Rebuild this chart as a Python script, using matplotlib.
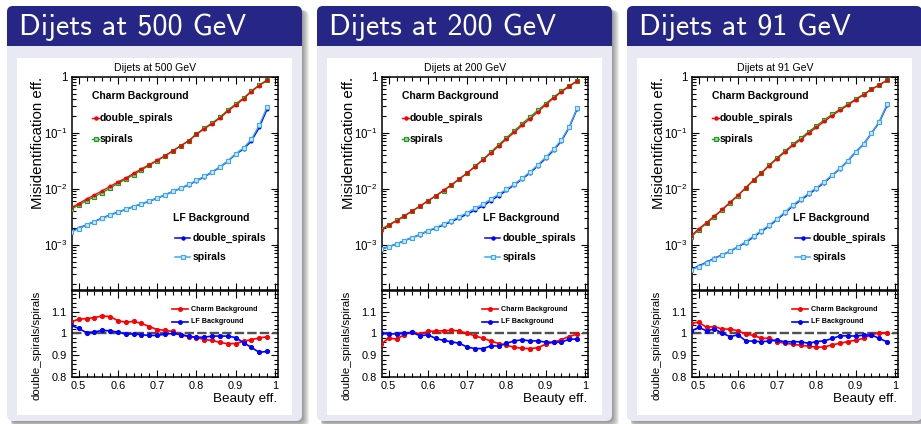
import numpy as np
import matplotlib
matplotlib.use("Agg")
import matplotlib.pyplot as plt
from matplotlib.patches import FancyBboxPatch, Rectangle
from matplotlib.ticker import MultipleLocator, LogLocator, FuncFormatter, NullFormatter, FormatStrFormatter

plt.rcParams['font.family'] = ['Liberation Sans', 'DejaVu Sans']
plt.rcParams['mathtext.fontset'] = 'custom'
plt.rcParams['mathtext.rm'] = 'Liberation Sans'
plt.rcParams['mathtext.it'] = 'Liberation Sans:italic'
plt.rcParams['mathtext.bf'] = 'Liberation Sans:bold'

W, H = 921, 424

# ---------------------------------------------------------------- data
beauty_eff = [0.48, 0.50, 0.52, 0.54, 0.56, 0.58, 0.60, 0.62, 0.64, 0.66, 0.68, 0.70, 0.72,
              0.74, 0.76, 0.78, 0.80, 0.82, 0.84, 0.86, 0.88, 0.90, 0.92, 0.94, 0.96, 0.98]

energies = ["500", "200", "91"]

# misidentification efficiency with the "spirals" tagger
charm_spirals_500 = [4.3e-3, 5.1e-3, 6.1e-3, 7.2e-3, 8.5e-3, 1.02e-2, 1.25e-2, 1.47e-2, 1.78e-2,
                     2.16e-2, 2.62e-2, 3.16e-2, 3.84e-2, 4.71e-2, 5.86e-2, 7.2e-2, 9.5e-2, 0.121,
                     0.149, 0.190, 0.254, 0.325, 0.417, 0.556, 0.711, 0.873]
lf_spirals_500 = [1.66e-3, 1.93e-3, 2.24e-3, 2.57e-3, 2.95e-3, 3.35e-3, 3.80e-3, 4.27e-3, 4.79e-3,
                  5.37e-3, 6.03e-3, 6.84e-3, 7.76e-3, 8.91e-3, 1.02e-2, 1.19e-2, 1.40e-2, 1.66e-2,
                  2.00e-2, 2.45e-2, 3.13e-2, 4.22e-2, 5.33e-2, 7.62e-2, 0.136, 0.288]
charm_spirals_200 = [1.88e-3, 2.26e-3, 2.72e-3, 3.27e-3, 3.98e-3, 4.9e-3, 6.03e-3, 7.41e-3, 9.23e-3,
                     1.16e-2, 1.48e-2, 1.91e-2, 2.51e-2, 3.33e-2, 4.47e-2, 6.03e-2, 8.13e-2, 0.108,
                     0.145, 0.191, 0.251, 0.331, 0.432, 0.550, 0.684, 0.841]
lf_spirals_200 = [8.28e-4, 9.2e-4, 1.03e-3, 1.18e-3, 1.33e-3, 1.53e-3, 1.78e-3, 2.01e-3, 2.34e-3,
                  2.68e-3, 3.16e-3, 3.73e-3, 4.47e-3, 5.26e-3, 6.47e-3, 7.94e-3, 9.75e-3, 1.21e-2,
                  1.53e-2, 1.99e-2, 2.65e-2, 3.64e-2, 5.06e-2, 7.41e-2, 0.128, 0.273]
charm_spirals_91 = [1.36e-3, 1.83e-3, 2.41e-3, 3.16e-3, 4.17e-3, 5.62e-3, 7.5e-3, 1.04e-2, 1.43e-2,
                    1.93e-2, 2.65e-2, 3.58e-2, 4.71e-2, 6.21e-2, 7.94e-2, 0.104, 0.132, 0.169,
                    0.213, 0.262, 0.321, 0.400, 0.485, 0.596, 0.711, 0.863]
lf_spirals_91 = [3.53e-4, 4.05e-4, 4.77e-4, 5.62e-4, 6.55e-4, 7.71e-4, 9.2e-4, 1.13e-3, 1.43e-3,
                 1.78e-3, 2.25e-3, 2.91e-3, 3.84e-3, 5.12e-3, 6.47e-3, 8.28e-3, 1.04e-2, 1.33e-2,
                 1.76e-2, 2.31e-2, 3.16e-2, 4.58e-2, 6.28e-2, 9.75e-2, 0.157, 0.321]

# double_spirals / spirals
charm_ratio_500 = [1.052, 1.065, 1.068, 1.072, 1.080, 1.077, 1.058, 1.051, 1.055, 1.046, 1.031, 1.018,
                   1.014, 1.009, 0.995, 0.985, 0.981, 0.972, 0.968, 0.959, 0.953, 0.954, 0.964,
                   0.972, 0.979, 0.985]
lf_ratio_500 = [1.038, 1.023, 1.004, 1.007, 1.014, 1.012, 1.006, 0.997, 0.998, 0.994, 0.991, 0.991,
                0.997, 1.000, 0.994, 0.988, 0.982, 0.983, 0.988, 0.988, 0.988, 0.981, 0.958, 0.936,
                0.914, 0.918]
charm_ratio_200 = [0.951, 0.978, 0.975, 0.994, 1.008, 0.997, 1.009, 1.011, 1.012, 1.015, 1.011, 1.000,
                   0.989, 0.978, 0.966, 0.954, 0.946, 0.937, 0.932, 0.931, 0.935, 0.951, 0.960,
                   0.972, 0.986, 0.997]
lf_ratio_200 = [1.000, 0.998, 0.998, 1.000, 1.005, 0.989, 0.994, 0.977, 0.968, 0.962, 0.955, 0.938,
                0.931, 0.931, 0.943, 0.943, 0.955, 0.966, 0.971, 0.966, 0.966, 0.960, 0.960, 0.960,
                0.974, 0.974]
charm_ratio_91 = [1.046, 1.051, 1.028, 1.031, 1.020, 1.020, 1.012, 0.997, 0.991, 0.978, 0.978, 0.962,
                  0.955, 0.951, 0.946, 0.942, 0.938, 0.938, 0.948, 0.955, 0.963, 0.969, 0.978,
                  0.994, 1.003, 1.002]
lf_ratio_91 = [1.009, 1.028, 1.012, 1.020, 1.002, 0.985, 0.994, 0.966, 0.965, 0.962, 0.966, 0.969,
               0.962, 0.962, 0.962, 0.955, 0.963, 0.966, 0.977, 0.989, 0.989, 0.988, 0.992, 0.994,
               0.977, 0.962]

panels = [
    (energies[0], charm_spirals_500, charm_ratio_500, lf_spirals_500, lf_ratio_500),
    (energies[1], charm_spirals_200, charm_ratio_200, lf_spirals_200, lf_ratio_200),
    (energies[2], charm_spirals_91, charm_ratio_91, lf_spirals_91, lf_ratio_91),
]

# ---------------------------------------------------------------- styles
TITLE_BG = '#262686'
BODY_BG = '#E9E9F3'
RED = '#ff0000'
GREEN = '#1f9a1f'
GREEN_FILL = '#8fd88f'
BLUE = '#0000ff'
LBLUE = '#3aa8f8'
LBLUE_FILL = '#c8e8ff'
SQ_MS = 3.5
DOT_MS = 1.9

fig = plt.figure(figsize=(W / 100, H / 100), dpi=100)
bg = fig.add_axes([0, 0, 1, 1])
bg.set_xlim(0, W)
bg.set_ylim(H, 0)
bg.axis('off')


def px_box(x0, y0, x1, y1):
    return [x0 / W, 1 - y1 / H, (x1 - x0) / W, (y1 - y0) / H]


def log_fmt(v, pos):
    e = int(round(np.log10(v)))
    return '1' if e == 0 else r'$10^{%d}$' % e


def style_axes(ax):
    for sp in ax.spines.values():
        sp.set_linewidth(1.1)
    ax.tick_params(which='both', direction='in', top=True, right=True, width=0.8, colors='black')
    ax.tick_params(which='major', length=5)
    ax.tick_params(which='minor', length=2.6)
    ax.set_facecolor('none')


x = np.array(beauty_eff)

for i, (energy, c_sp, c_rat, l_sp, l_rat) in enumerate(panels):
    dx = 310 * i
    bx0, bx1 = 7 + dx, 302 + dx
    ty0, ty1, by1 = 6, 46, 421

    # block shadow
    for k in range(7):
        bg.add_patch(FancyBboxPatch((bx0 + 4, ty0 + 4), bx1 - bx0 - 3 + k, by1 - ty0 - 3 + k,
                                    boxstyle='round,pad=0,rounding_size=6', fc='black',
                                    ec='none', alpha=0.065))
    # block body and title bar
    bg.add_patch(FancyBboxPatch((bx0, ty0), bx1 - bx0, by1 - ty0,
                                boxstyle='round,pad=0,rounding_size=6', fc=BODY_BG, ec='none'))
    bg.add_patch(FancyBboxPatch((bx0, ty0), bx1 - bx0, ty1 - ty0,
                                boxstyle='round,pad=0,rounding_size=6', fc=TITLE_BG, ec='none'))
    bg.add_patch(Rectangle((bx0, ty1 - 10), bx1 - bx0, 10, fc=TITLE_BG, ec='none'))
    bg.text(19 + dx, 35, f"Dijets at {energy} GeV", family='cmss10', size=21.7,
            color='white', va='baseline', ha='left')
    # white canvas
    bg.add_patch(Rectangle((17 + dx, 58), 275, 357, fc='white', ec='none'))

    # canvas texts
    bg.text(155 + dx, 68, f"Dijets at {energy} GeV", ha='center', va='center', size=7.6)
    bg.text(38.5 + dx, 76.5, "Misidentification eff.", rotation=90, ha='center', va='top',
            size=10.8)
    bg.text(36.5 + dx, 291, "double_spirals/spirals", rotation=90, ha='center', va='top',
            size=8.2)
    bg.text(277.5 + dx, 399, "Beauty eff.", ha='right', va='center', size=9.6)

    # ------------------------------------------------ top pad
    ax = fig.add_axes(px_box(72 + dx, 76.7, 277.7 + dx, 290))
    ax.set_yscale('log')
    c_sp = np.array(c_sp)
    l_sp = np.array(l_sp)
    c_dbl = c_sp * np.array(c_rat)
    l_dbl = l_sp * np.array(l_rat)
    ax.plot(x, c_sp, color=GREEN, lw=1.0, marker='s', ms=SQ_MS, mfc=GREEN_FILL, mec=GREEN,
            mew=0.8, zorder=3)
    ax.plot(x, c_dbl, color=RED, lw=0.9, marker='o', ms=DOT_MS, mfc=RED, mec=RED, zorder=4)
    ax.plot(x, l_dbl, color=BLUE, lw=1.1, marker='o', ms=DOT_MS, mfc=BLUE, mec=BLUE, zorder=3)
    ax.plot(x, l_sp, color=LBLUE, lw=1.0, marker='s', ms=SQ_MS, mfc=LBLUE_FILL, mec=LBLUE,
            mew=0.8, zorder=4)
    ax.set_xlim(0.483, 1.007)
    ax.set_ylim(1.55e-4, 1.0)
    ax.xaxis.set_major_locator(MultipleLocator(0.1))
    ax.xaxis.set_minor_locator(MultipleLocator(0.02))
    ax.yaxis.set_major_locator(LogLocator(base=10))
    ax.yaxis.set_minor_locator(LogLocator(base=10, subs=np.arange(2, 10)))
    ax.yaxis.set_major_formatter(FuncFormatter(log_fmt))
    ax.yaxis.set_minor_formatter(NullFormatter())
    style_axes(ax)
    ax.tick_params(axis='x', labelbottom=False)
    ax.tick_params(axis='y', labelsize=8.3, pad=3)

    # legends of the top pad
    bg.text(92 + dx, 96, "Charm Background", weight='bold', size=7.5, va='center')
    bg.plot([92 + dx, 99 + dx], [118, 118], color=RED, lw=1.0)
    bg.plot([95.5 + dx], [118], 'o', color=RED, ms=DOT_MS + 0.3)
    bg.text(100 + dx, 118, "double_spirals", weight='bold', size=7.5, va='center')
    bg.plot([92 + dx, 99 + dx], [139, 139], color=GREEN, lw=1.0)
    bg.plot([95.5 + dx], [139], 's', color=GREEN, ms=SQ_MS, mfc=GREEN_FILL, mew=0.8)
    bg.text(100 + dx, 139, "spirals", weight='bold', size=7.5, va='center')

    bg.text(173 + dx, 218, "LF Background", weight='bold', size=7.5, va='center')
    bg.plot([175 + dx, 190 + dx], [238, 238], color=BLUE, lw=1.1)
    bg.plot([182.5 + dx], [238], 'o', color=BLUE, ms=DOT_MS + 0.3)
    bg.text(193 + dx, 238, "double_spirals", weight='bold', size=7.5, va='center')
    bg.plot([175 + dx, 190 + dx], [257, 257], color=LBLUE, lw=1.1)
    bg.plot([182.5 + dx], [257], 's', color=LBLUE, ms=SQ_MS, mfc=LBLUE_FILL, mew=0.8)
    bg.text(193 + dx, 257, "spirals", weight='bold', size=7.5, va='center')

    # ------------------------------------------------ ratio pad
    axr = fig.add_axes(px_box(72 + dx, 290.7, 277.7 + dx, 377.3))
    axr.axhline(1.0, color='#505050', lw=1.7, ls=(0, (4, 1.3)), zorder=2)
    axr.plot(x, c_rat, color=RED, lw=1.2, marker='o', ms=2.7, zorder=3)
    axr.plot(x, l_rat, color=BLUE, lw=1.2, marker='o', ms=2.7, zorder=3)
    axr.set_xlim(0.483, 1.007)
    axr.set_ylim(0.8, 1.195)
    axr.xaxis.set_major_locator(MultipleLocator(0.1))
    axr.xaxis.set_minor_locator(MultipleLocator(0.02))
    axr.yaxis.set_major_locator(MultipleLocator(0.1))
    axr.yaxis.set_minor_locator(MultipleLocator(0.02))
    axr.xaxis.set_major_formatter(FormatStrFormatter('%g'))
    axr.yaxis.set_major_formatter(FormatStrFormatter('%g'))
    style_axes(axr)
    axr.tick_params(axis='x', labelsize=7.9, pad=2.5)
    axr.tick_params(axis='y', labelsize=7.9, pad=4)

    # ratio legend
    bg.plot([172 + dx, 188 + dx], [309.3, 309.3], color=RED, lw=1.2)
    bg.plot([180 + dx], [309.3], 'o', color=RED, ms=2.5)
    bg.text(191 + dx, 309.3, "Charm Background", weight='bold', size=5.1, va='center')
    bg.plot([172 + dx, 188 + dx], [321.7, 321.7], color=BLUE, lw=1.2)
    bg.plot([180 + dx], [321.7], 'o', color=BLUE, ms=2.5)
    bg.text(191 + dx, 321.7, "LF Background", weight='bold', size=5.1, va='center')

fig.savefig("out.png", dpi=100)
